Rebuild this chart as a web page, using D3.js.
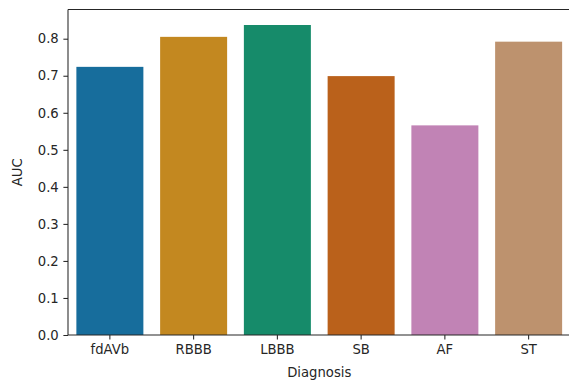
<!DOCTYPE html>
<html>
<head>
<meta charset="utf-8">
<script src="https://cdn.jsdelivr.net/npm/d3@7"></script>
<style>
  html, body { margin: 0; padding: 0; background: #fff; }
  svg text { font-family: "DejaVu Sans", sans-serif; fill: #262626; }
</style>
</head>
<body>
<svg id="chart" width="569" height="381"></svg>
<script>
// ── DATA ──────────────────────────────────────────────
const diagnoses = ['fdAVb', 'RBBB', 'LBBB', 'SB', 'AF', 'ST'];
const aucValues = [0.724, 0.805, 0.837, 0.699, 0.566, 0.792];
const barColors = ['#176d9c', '#c38820', '#168b6a', '#ba611b', '#c183b5', '#bd926e'];
const yTicks    = [0.0, 0.1, 0.2, 0.3, 0.4, 0.5, 0.6, 0.7, 0.8];

// ── LAYOUT ────────────────────────────────────────────
// figure is a 1.32x upscale of a 72dpi matplotlib figure, right edge cropped
const S = 1.32;
const FONT = 10 * S;
const margin = { left: 68, right: -1.5, top: 9.5, bottom: 46 };
const W = 569, H = 381;
const svg = d3.select('#chart');

const x = d3.scaleBand()
  .domain(diagnoses)
  .range([margin.left, W - margin.right])
  .paddingInner(0.2)
  .paddingOuter(0.1);

const yMax = d3.max(aucValues) * 1.05;
const y = d3.scaleLinear()
  .domain([0, yMax])
  .range([H - margin.bottom, margin.top]);

// ── BARS ──────────────────────────────────────────────
svg.append('g')
  .selectAll('rect')
  .data(aucValues)
  .enter().append('rect')
    .attr('x', (d, i) => x(diagnoses[i]))
    .attr('y', d => y(d))
    .attr('width', x.bandwidth())
    .attr('height', d => y(0) - y(d))
    .attr('fill', (d, i) => barColors[i]);

// ── AXES ──────────────────────────────────────────────
const xAxis = svg.append('g')
  .attr('transform', `translate(0,${y(0)})`)
  .call(d3.axisBottom(x).tickSize(3.5 * S).tickPadding(3.5 * S));

const yAxis = svg.append('g')
  .attr('transform', `translate(${margin.left},0)`)
  .call(d3.axisLeft(y).tickValues(yTicks).tickFormat(d3.format('.1f')).tickSize(3.5 * S).tickPadding(3.5 * S));

[xAxis, yAxis].forEach(a => {
  a.select('.domain').remove();
  a.selectAll('line').attr('stroke', '#262626').attr('stroke-width', 0.8 * S);
  a.selectAll('text').attr('font-size', FONT).attr('fill', '#262626');
});

// spines: left, bottom, top (right one falls outside the crop)
const xEnd = W - margin.right;
const spine = svg.append('g').attr('stroke', '#262626').attr('stroke-width', 0.8 * S);
spine.append('line').attr('x1', margin.left).attr('x2', margin.left).attr('y1', margin.top).attr('y2', y(0));
spine.append('line').attr('x1', margin.left).attr('x2', xEnd).attr('y1', y(0)).attr('y2', y(0));
spine.append('line').attr('x1', margin.left).attr('x2', xEnd).attr('y1', margin.top).attr('y2', margin.top);

// ── LABELS ────────────────────────────────────────────
svg.append('text')
  .attr('x', (margin.left + xEnd) / 2)
  .attr('y', 377)
  .attr('text-anchor', 'middle')
  .attr('font-size', FONT)
  .text('Diagnosis');

svg.append('text')
  .attr('transform', `translate(22,${(margin.top + y(0)) / 2}) rotate(-90)`)
  .attr('text-anchor', 'middle')
  .attr('font-size', FONT)
  .text('AUC');
</script>
</body>
</html>
